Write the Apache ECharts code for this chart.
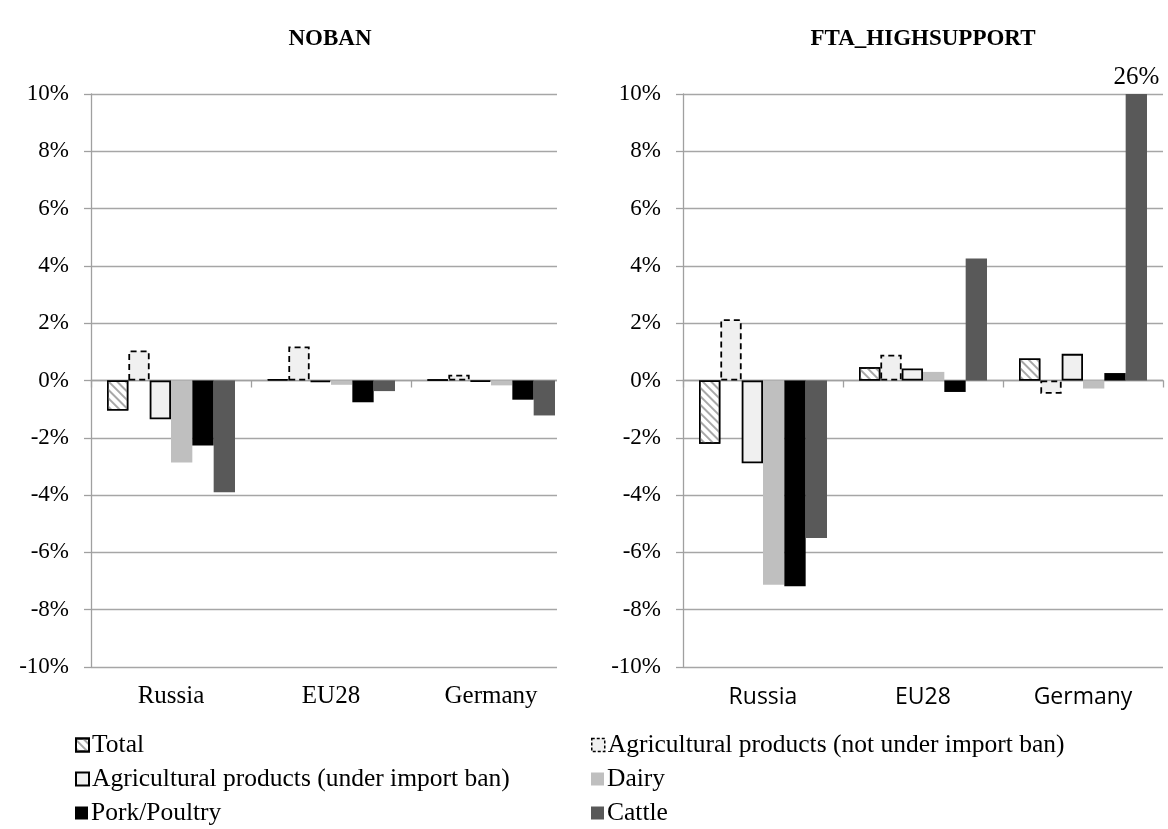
<!DOCTYPE html>
<html>
<head>
<meta charset="utf-8">
<script src="https://cdn.jsdelivr.net/npm/echarts@6/dist/echarts.min.js"></script>
<style>
html,body{margin:0;padding:0;background:#fff;}
#chart{width:1168px;height:829px;}
</style>
</head>
<body>
<div id="chart"></div>
<script>
// ---- data ----
const categories = ['Russia', 'EU28', 'Germany'];
const seriesNames = ['Total', 'Agricultural products (not under import ban)', 'Agricultural products (under import ban)', 'Dairy', 'Pork/Poultry', 'Cattle'];
const panelTitles = ['NOBAN', 'FTA_HIGHSUPPORT'];

// NOBAN panel (% change)
const nobanTotal  = [-1.05, 0.05, 0.03];
const nobanNotBan = [1.05, 1.19, 0.20];
const nobanBan    = [-1.35, -0.06, -0.05];
const nobanDairy  = [-2.86, -0.15, -0.17];
const nobanPork   = [-2.27, -0.76, -0.67];
const nobanCattle = [-3.90, -0.37, -1.22];

// FTA_HIGHSUPPORT panel (% change)
const ftaTotal  = [-2.21, 0.46, 0.77];
const ftaNotBan = [2.14, 0.90, -0.46];
const ftaBan    = [-2.89, 0.42, 0.93];
const ftaDairy  = [-7.13, 0.30, -0.28];
const ftaPork   = [-7.18, -0.40, 0.26];
const ftaCattle = [-5.50, 4.26, 26];

const yMin = -10, yMax = 10, yStep = 2;

// ---- styles ----
const serif = 'Liberation Serif';
const axisGray = '#a0a0a0';
const styles = [
  { color: '#ffffff', borderColor: '#000', borderWidth: 1.5,
    decal: { symbol: 'rect', dashArrayX: [1, 0], dashArrayY: [1.5, 3.5], rotation: Math.PI / 4, color: '#a8a8a8', symbolSize: 1 } },
  { color: '#f0f0f0', borderColor: '#000', borderWidth: 1.8, borderType: [6, 4] },
  { color: '#f0f0f0', borderColor: '#000', borderWidth: 1.8 },
  { color: '#bfbfbf' },
  { color: '#000000' },
  { color: '#595959' }
];

const panels = [
  [nobanTotal, nobanNotBan, nobanBan, nobanDairy, nobanPork, nobanCattle],
  [ftaTotal, ftaNotBan, ftaBan, ftaDairy, ftaPork, ftaCattle]
];

const grids = [
  { left: 91, top: 94, width: 480, bottom: 162 },
  { left: 683, top: 94, width: 480, bottom: 162 }
];

const xAxes = [], yAxes = [], series = [];
panels.forEach((panel, p) => {
  const labelFont = p === 0 ? serif : 'Open Sans';
  xAxes.push({
    type: 'category', gridIndex: p, data: categories, position: 'bottom',
    axisLine: { show: false, onZero: false }, axisTick: { show: false },
    axisLabel: { fontFamily: labelFont, fontSize: p === 0 ? 25 : 23, color: '#000', margin: p === 0 ? 17 : 19 }
  });
  xAxes.push({
    type: 'category', gridIndex: p, data: categories, position: 'bottom',
    axisLine: { show: true, onZero: true, lineStyle: { color: axisGray, width: 1.3 } },
    axisTick: { show: true, length: 7, lineStyle: { color: axisGray, width: 1.3 } },
    axisLabel: { show: false }
  });
  yAxes.push({
    type: 'value', gridIndex: p, min: yMin, max: yMax, interval: yStep,
    axisLine: { show: true, lineStyle: { color: axisGray, width: 1.3 } },
    axisTick: { show: true, length: 7, lineStyle: { color: axisGray, width: 1.3 } },
    splitLine: { show: true, lineStyle: { color: '#a6a6a6', width: 1.3 } },
    axisLabel: { formatter: '{value}%', fontFamily: serif, fontSize: 23, color: '#000', margin: 22 }
  });
  panel.forEach((vals, s) => {
    series.push({
      name: seriesNames[s], type: 'bar', xAxisIndex: p * 2, yAxisIndex: p,
      barGap: '0%', barCategoryGap: '20%',
      itemStyle: styles[s],
      data: vals.map(v => {
        if (v > yMax) {
          return { value: yMax,
            label: { show: true, position: 'top', distance: 4, formatter: () => v + '%',
                     fontFamily: serif, fontSize: 25, color: '#000' } };
        }
        return v;
      })
    });
  });
});

// legend layout: two columns of three rows
const legendColumns = [[0, 2, 4], [1, 3, 5]];
const legendLeft = [70, 586];
const legendTop = [727, 761, 795];
const legends = [];
legendColumns.forEach((col, c) => {
  col.forEach((s, r) => {
    const item = { name: seriesNames[s] };
    if (s === 1) item.itemStyle = { borderType: [3, 2], borderWidth: 1.5 };
    legends.push({
      left: legendLeft[c], top: legendTop[r], itemWidth: 13, itemHeight: 13, icon: 'rect',
      itemGap: 0, data: [item], selectedMode: false,
      textStyle: { fontFamily: serif, fontSize: 25.5, color: '#000', padding: [0, 0, 0, -2] }
    });
  });
});

const option = {
  animation: false,
  backgroundColor: '#fff',
  title: panelTitles.map((t, i) => ({
    text: t, left: i === 0 ? 325 : 918, top: 23, textAlign: 'center',
    textStyle: { fontFamily: serif, fontWeight: 'bold', fontSize: 23, color: '#000' }
  })),
  grid: grids,
  xAxis: xAxes,
  yAxis: yAxes,
  legend: legends,
  // the left panel's picture is cut at its right edge in the original
  graphic: [{ type: 'rect', left: 557, top: 85, shape: { width: 18, height: 595 },
              style: { fill: '#fff' }, z: 100 }],
  series: series
};

const chart = echarts.init(document.getElementById('chart'), null, { renderer: 'canvas' });
chart.setOption(option);
</script>
</body>
</html>
